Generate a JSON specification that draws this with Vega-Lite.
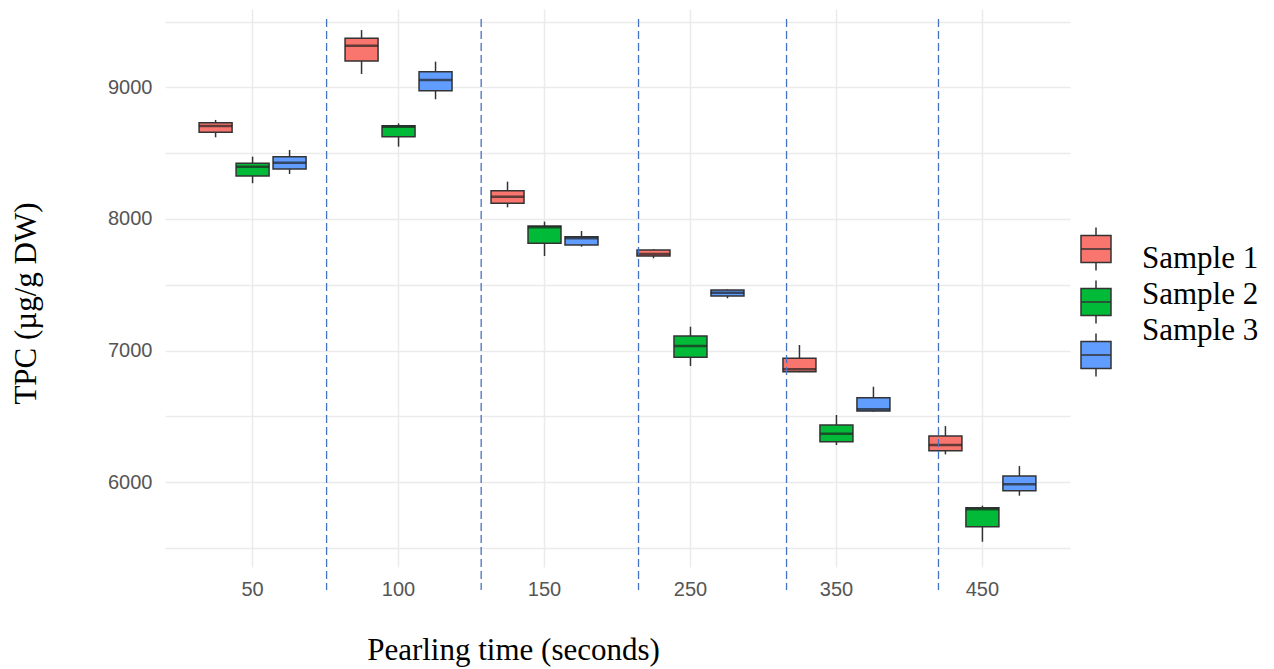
{
  "$schema": "https://vega.github.io/schema/vega-lite/v6.json",
  "width": 905,
  "height": 558,
  "autosize": {"type": "none"},
  "padding": {"left": 165, "top": 9, "right": 204, "bottom": 102},
  "background": "white",
  "config": {
    "view": {"stroke": null},
    "axis": {
      "labelFont": "Liberation Sans",
      "labelFontSize": 20,
      "labelColor": "#555555",
      "titleFont": "Liberation Serif",
      "titleFontSize": 31,
      "titleFontWeight": "normal",
      "titleColor": "#000000",
      "gridColor": "#EBEBEB",
      "gridWidth": 1.5,
      "domain": false,
      "ticks": false
    }
  },
  "datasets": {
    "boxes": [
      {"time": "50", "sample": "Sample 1", "lower": 8620, "q1": 8658, "median": 8706, "q3": 8731, "upper": 8752},
      {"time": "50", "sample": "Sample 2", "lower": 8271, "q1": 8326, "median": 8397, "q3": 8422, "upper": 8473},
      {"time": "50", "sample": "Sample 3", "lower": 8341, "q1": 8379, "median": 8427, "q3": 8473, "upper": 8524},
      {"time": "100", "sample": "Sample 1", "lower": 9101, "q1": 9200, "median": 9316, "q3": 9372, "upper": 9435},
      {"time": "100", "sample": "Sample 2", "lower": 8549, "q1": 8625, "median": 8701, "q3": 8708, "upper": 8726},
      {"time": "100", "sample": "Sample 3", "lower": 8909, "q1": 8974, "median": 9055, "q3": 9119, "upper": 9195},
      {"time": "150", "sample": "Sample 1", "lower": 8088, "q1": 8119, "median": 8169, "q3": 8214, "upper": 8283},
      {"time": "150", "sample": "Sample 2", "lower": 7718, "q1": 7815, "median": 7936, "q3": 7946, "upper": 7979},
      {"time": "150", "sample": "Sample 3", "lower": 7789, "q1": 7802, "median": 7853, "q3": 7865, "upper": 7908},
      {"time": "250", "sample": "Sample 1", "lower": 7701, "q1": 7718, "median": 7733, "q3": 7764, "upper": 7770},
      {"time": "250", "sample": "Sample 2", "lower": 6882, "q1": 6948, "median": 7034, "q3": 7110, "upper": 7181},
      {"time": "250", "sample": "Sample 3", "lower": 7397, "q1": 7414, "median": 7439, "q3": 7460, "upper": 7465},
      {"time": "350", "sample": "Sample 1", "lower": 6835, "q1": 6839, "median": 6857, "q3": 6941, "upper": 7042},
      {"time": "350", "sample": "Sample 2", "lower": 6282, "q1": 6307, "median": 6368, "q3": 6434, "upper": 6510},
      {"time": "350", "sample": "Sample 3", "lower": 6535, "q1": 6540, "median": 6553, "q3": 6641, "upper": 6725},
      {"time": "450", "sample": "Sample 1", "lower": 6211, "q1": 6239, "median": 6282, "q3": 6350, "upper": 6426},
      {"time": "450", "sample": "Sample 2", "lower": 5547, "q1": 5661, "median": 5793, "q3": 5805, "upper": 5821},
      {"time": "450", "sample": "Sample 3", "lower": 5897, "q1": 5935, "median": 5983, "q3": 6046, "upper": 6122}
    ],
    "dividers": [
      {"pos": 1.507},
      {"pos": 2.566},
      {"pos": 3.644},
      {"pos": 4.658},
      {"pos": 5.699}
    ]
  },
  "layer": [
    {
      "data": {"name": "boxes"},
      "encoding": {
        "x": {
          "field": "time",
          "type": "ordinal",
          "sort": ["50", "100", "150", "250", "350", "450"],
          "scale": {"paddingInner": 0, "paddingOuter": 0.1},
          "title": "Pearling time (seconds)",
          "axis": {
            "grid": true,
            "bandPosition": 0.5,
            "labelAngle": 0,
            "labelPadding": 12,
            "titleX": 348,
            "titleY": 92,
            "titleAlign": "center",
            "titleAnchor": null,
            "titleBaseline": "alphabetic"
          }
        },
        "xOffset": {
          "field": "sample",
          "type": "nominal",
          "scale": {"domain": ["Sample 1", "Sample 2", "Sample 3"], "paddingInner": 0.108, "paddingOuter": 0.527}
        }
      },
      "layer": [
        {
          "mark": {"type": "rule", "color": "#333333", "strokeWidth": 1.5},
          "encoding": {
            "y": {
              "field": "lower",
              "type": "quantitative",
              "scale": {"domain": [5355, 9595], "nice": false, "zero": false},
              "title": "TPC (µg/g DW)",
              "axis": {
                "values": [5500, 6000, 6500, 7000, 7500, 8000, 8500, 9000, 9500],
                "labelExpr": "datum.value % 1000 == 0 ? datum.label : ''",
                "format": "d",
                "labelPadding": 13,
                "titleX": -130,
                "titleY": 294,
                "titleAngle": -90,
                "titleAlign": "center",
                "titleAnchor": null,
                "titleBaseline": "alphabetic"
              }
            },
            "y2": {"field": "upper"}
          }
        },
        {
          "mark": {"type": "bar", "stroke": "#333333", "strokeWidth": 1.5},
          "encoding": {
            "y": {
              "field": "q1",
              "type": "quantitative",
              "title": "TPC (µg/g DW)"
            },
            "y2": {"field": "q3"},
            "color": {
              "field": "sample",
              "type": "nominal",
              "scale": {"domain": ["Sample 1", "Sample 2", "Sample 3"], "range": ["#F8766D", "#00BA38", "#619CFF"]},
              "legend": {
                "title": null,
                "orient": "none",
                "legendX": 910,
                "legendY": 219,
                "symbolType": "M-0.75,-0.67H0.75V0.67H-0.75Z M-0.75,0H0.75 M0,-0.67V-1.08 M0,0.67V1.08",
                "symbolSize": 1600,
                "symbolStrokeColor": "#333333",
                "symbolStrokeWidth": 1.5,
                "symbolOpacity": 1,
                "labelExpr": "''",
                "labelFontSize": 31,
                "labelOffset": 0,
                "rowPadding": 3
              }
            }
          }
        },
        {
          "mark": {"type": "tick", "orient": "horizontal", "size": 33, "thickness": 2.5, "color": "#222222"},
          "encoding": {
            "y": {
              "field": "median",
              "type": "quantitative",
              "title": "TPC (µg/g DW)"
            }
          }
        },
        {
          "mark": {"type": "point", "opacity": 0, "size": 1},
          "encoding": {
            "y": {
              "field": "median",
              "type": "quantitative",
              "title": "TPC (µg/g DW)"
            },
            "shape": {
              "field": "sample",
              "type": "nominal",
              "scale": {"range": ["circle", "circle", "circle"]},
              "legend": {
                "title": null,
                "orient": "none",
                "legendX": 946,
                "legendY": 234,
                "symbolSize": 4,
                "symbolOpacity": 0,
                "symbolStrokeWidth": 0,
                "labelFont": "Liberation Serif",
                "labelFontSize": 31,
                "labelColor": "#000000",
                "labelOffset": 0,
                "labelLimit": 300,
                "rowPadding": 4
              }
            }
          }
        }
      ]
    },
    {
      "data": {"name": "dividers"},
      "mark": {"type": "rule", "color": "#4472C4", "strokeWidth": 1.3, "strokeDash": [8, 4]},
      "encoding": {
        "x": {
          "field": "pos",
          "type": "quantitative",
          "scale": {"domain": [0.4, 6.6], "nice": false, "zero": false},
          "axis": null
        },
        "y": {"datum": 9519, "type": "quantitative"},
        "y2": {"datum": 5180}
      }
    }
  ],
  "resolve": {"scale": {"x": "independent"}}
}
